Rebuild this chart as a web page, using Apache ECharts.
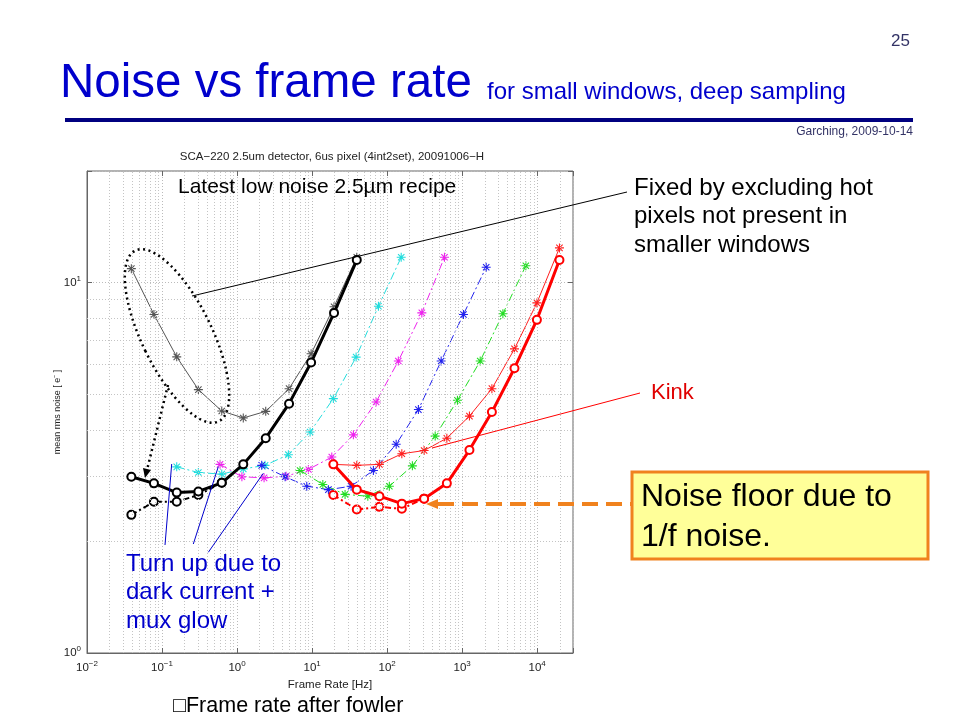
<!DOCTYPE html>
<html>
<head>
<meta charset="utf-8">
<script src="https://cdn.jsdelivr.net/npm/echarts@6/dist/echarts.min.js"></script>
<style>html,body{margin:0;padding:0;background:#fff;}#c{width:960px;height:720px;}</style>
</head>
<body>
<div id="c"></div>
<script>
// ---- data ----
const blackX     = [0.039, 0.078, 0.157, 0.305, 0.625, 1.21, 2.41, 4.93, 9.7, 19.6, 39.4];
const grayStarY  = [10.9, 8.2, 6.3, 5.14, 4.5, 4.31, 4.49, 5.17, 6.42, 8.6, 11.7];
const blackCircY = [2.99, 2.87, 2.71, 2.73, 2.88, 3.23, 3.80, 4.71, 6.08, 8.28, 11.5];
const blackDashX = [0.039, 0.078, 0.157, 0.305, 0.625];
const blackDashY = [2.36, 2.56, 2.56, 2.67, 2.88];
const cyanX = [0.157, 0.305, 0.625, 1.21, 2.36, 4.83, 9.4, 19.2, 38.6, 76.6, 154];
const cyanY = [3.18, 3.07, 3.04, 3.14, 3.21, 3.43, 3.95, 4.86, 6.29, 8.63, 11.7];
const magX  = [0.593, 1.16, 2.29, 4.5, 8.93, 18.3, 35.5, 71.3, 141, 290, 581];
const magY  = [3.23, 2.99, 2.97, 3.0, 3.13, 3.38, 3.88, 4.76, 6.14, 8.28, 11.7];
const blueX = [2.13, 4.37, 8.49, 16.5, 33.1, 65.6, 132, 261, 525, 1040, 2090];
const blueY = [3.21, 2.99, 2.82, 2.76, 2.82, 3.11, 3.66, 4.54, 6.14, 8.2, 11.0];
const greenX = [6.92, 13.9, 27.5, 55.3, 107, 217, 437, 865, 1740, 3490, 7060];
const greenY = [3.11, 2.85, 2.68, 2.65, 2.82, 3.20, 3.85, 4.81, 6.14, 8.24, 11.1];
const redX     = [19.2, 39.4, 78.9, 157, 311, 625, 1250, 2490, 4980, 9910, 19800];
const redStarY = [3.23, 3.21, 3.23, 3.45, 3.52, 3.80, 4.36, 5.17, 6.62, 8.81, 12.4];
const redCircY = [3.23, 2.76, 2.65, 2.53, 2.61, 2.87, 3.53, 4.47, 5.87, 7.93, 11.5];
const redDashX = [19.2, 39.4, 78.9, 157, 311];
const redDashY = [2.67, 2.44, 2.48, 2.45, 2.61];
const xMin = 0.01, xMax = 30000, yMin = 1, yMax = 20;
const minorMultipliers = [2, 3, 4, 5, 6, 7, 8, 9];
const xDecades = [-2, -1, 0, 1, 2, 3, 4];
const yDecades = [0, 1];

// ---- helpers ----
const FONT = '"Liberation Sans", Arial, Helvetica, sans-serif';
const pairs = (xs, ys) => xs.map((x, i) => [x, ys[i]]);
const STAR = 'path://M-0.6,-5L0.6,-5L0.6,5L-0.6,5Z M-5,-0.6L5,-0.6L5,0.6L-5,0.6Z M-3.96,-3.11L-3.11,-3.96L3.96,3.11L3.11,3.96Z M3.11,-3.96L3.96,-3.11L-3.11,3.96L-3.96,3.11Z';
const DASHDOT = [8, 3, 2, 3];

function starSeries(xs, ys, color, lineType, width) {
  return {
    type: 'line', data: pairs(xs, ys), z: 3,
    symbol: STAR, symbolSize: 9,
    itemStyle: { color: color },
    lineStyle: { color: color, width: width, type: lineType },
  };
}
function circSeries(xs, ys, color, lineType, width, z) {
  return {
    type: 'line', data: pairs(xs, ys), z: z,
    symbol: 'circle', symbolSize: 8,
    itemStyle: { color: '#fff', borderColor: color, borderWidth: 2 },
    lineStyle: { color: color, width: width, type: lineType },
  };
}

const minorX = [], minorY = [];
xDecades.forEach(d => minorMultipliers.forEach(m => { const v = m * Math.pow(10, d); if (v < xMax * 0.999) minorX.push(v); }));
yDecades.forEach(d => minorMultipliers.forEach(m => { const v = m * Math.pow(10, d); if (v < yMax * 0.999) minorY.push(v); }));

function powLabel(v) {
  const l = Math.log10(v);
  const e = Math.round(l);
  if (Math.abs(l - e) > 1e-6) return '';
  return '{b|10}{s|' + (e < 0 ? '\u2212' + (-e) : e) + '}';
}
const labelRich = {
  b: { fontSize: 11.5, fontFamily: FONT, color: '#222' },
  s: { fontSize: 8, fontFamily: FONT, color: '#222', verticalAlign: 'bottom', padding: [0, 0, 8, 0] }
};

const chart = echarts.init(document.getElementById('c'), null, { renderer: 'canvas' });

function txt(text, x, y, size, color, align, extra) {
  return {
    type: 'text', silent: true, z: 50,
    style: Object.assign({
      text: text, x: x, y: y, font: size + 'px ' + FONT, fill: color,
      textAlign: align || 'left', align: align || 'left',
      textVerticalAlign: 'middle', verticalAlign: 'middle'
    }, extra || {})
  };
}
function ln(x1, y1, x2, y2, color, w, dash) {
  return { type: 'line', silent: true, z: 40, shape: { x1, y1, x2, y2 },
           style: { stroke: color, lineWidth: w, lineDash: dash || null } };
}
function tri(points, color) {
  return { type: 'polygon', silent: true, z: 41, shape: { points }, style: { fill: color } };
}

const boxAxis = (type, pos, min, max) => ({
  type: type, logBase: 10, min: min, max: max, position: pos,
  axisLine: { show: false }, axisLabel: { show: false }, splitLine: { show: false },
  axisTick: { inside: true, length: 5, lineStyle: { color: '#666' } }
});

const option = {
  animation: false,
  backgroundColor: '#fff',
  grid: { left: 87, top: 171, width: 486, height: 482, show: true, borderColor: '#666', borderWidth: 1, containLabel: false },
  xAxis: [{
    type: 'log', logBase: 10, min: xMin, max: xMax,
    name: 'Frame Rate [Hz]', nameLocation: 'middle', nameGap: 26,
    nameTextStyle: { fontSize: 11.5, fontFamily: FONT, color: '#222' },
    axisLine: { lineStyle: { color: '#666' } },
    axisTick: { inside: true, length: 5, lineStyle: { color: '#666' } },
    axisLabel: { formatter: powLabel, rich: labelRich, margin: 7 },
    splitLine: { show: true, lineStyle: { color: '#bbb', type: [1, 2] } }
  }, boxAxis('log', 'top', xMin, xMax)],
  yAxis: [{
    type: 'log', logBase: 10, min: yMin, max: yMax,
    name: 'mean rms noise [ e\u207B ]', nameLocation: 'middle', nameGap: 25,
    nameMoveOverlap: false,
    nameTextStyle: { fontSize: 9, fontFamily: FONT, color: '#222' },
    axisLine: { lineStyle: { color: '#666' } },
    axisTick: { inside: true, length: 5, lineStyle: { color: '#666' } },
    axisLabel: { formatter: powLabel, rich: labelRich, margin: 6 },
    splitLine: { show: true, lineStyle: { color: '#bbb', type: [1, 2] } }
  }, boxAxis('log', 'right', yMin, yMax)],
  series: [
    {
      type: 'line', data: [[1, 1]], z: 1, symbol: 'none', silent: true,
      lineStyle: { opacity: 0 },
      markLine: {
        silent: true, symbol: ['none', 'none'], label: { show: false }, animation: false,
        lineStyle: { color: '#c4c4c4', type: [1, 2], width: 1 },
        emphasis: { disabled: true },
        data: minorX.map(v => ({ xAxis: v })).concat(minorY.map(v => ({ yAxis: v })))
      }
    },
    starSeries(blackX, grayStarY, '#555555', 'solid', 1),
    starSeries(cyanX, cyanY, '#22dddd', DASHDOT, 1),
    starSeries(magX, magY, '#ee22ee', DASHDOT, 1),
    starSeries(blueX, blueY, '#2222ee', DASHDOT, 1),
    starSeries(greenX, greenY, '#22dd22', DASHDOT, 1),
    starSeries(redX, redStarY, '#ff2020', 'solid', 1),
    circSeries(blackDashX, blackDashY, '#000000', [6, 3, 2, 3], 2, 4),
    circSeries(redDashX, redDashY, '#ff0000', [6, 3, 2, 3], 2, 4),
    circSeries(blackX, blackCircY, '#000000', 'solid', 3, 5),
    circSeries(redX, redCircY, '#ff0000', 'solid', 3, 5)
  ],
  graphic: { elements: [
    txt('25', 910, 41, 17, '#333366', 'right'),
    txt('Noise vs frame rate', 60, 84, 47.5, '#0000cc'),
    txt('for small windows, deep sampling', 487, 92, 24, '#0000cc'),
    ln(65, 120, 913, 120, '#000080', 4),
    txt('Garching, 2009-10-14', 913, 132, 12, '#333366', 'right'),
    txt('SCA\u2212220 2.5um detector, 6us pixel (4int2set), 20091006\u2212H', 332, 157, 11.5, '#222', 'center'),
    txt('Latest low noise 2.5\u00B5m recipe', 178, 187, 21, '#000'),
    txt('Fixed by excluding hot\npixels not present in\nsmaller windows', 634, 174, 24, '#000', 'left', { verticalAlign: 'top', textVerticalAlign: 'top', lineHeight: 28.5 }),
    ln(192, 296, 627, 192, '#000', 1),
    {
      type: 'ellipse', silent: true, z: 40, x: 177, y: 336, rotation: 26 * Math.PI / 180,
      shape: { cx: 0, cy: 0, rx: 35, ry: 95 },
      style: { fill: null, stroke: '#000', lineWidth: 2.5, lineDash: [2, 3.5] }
    },
    ln(168, 385, 147, 470, '#000', 2.5, [2, 3.5]),
    tri([[145, 478], [151, 470], [143, 468]], '#000'),
    txt('Kink', 651, 393, 22, '#e00000'),
    ln(432, 448, 640, 393, '#ff0000', 1),
    ln(171.7, 464, 165, 545, '#0000cc', 1),
    ln(218.3, 466.7, 193.3, 544, '#0000cc', 1),
    ln(263.3, 473.3, 208.3, 552.3, '#0000cc', 1),
    txt('Turn up due to\ndark current +\nmux glow', 126, 550, 24, '#0000cc', 'left', { verticalAlign: 'top', textVerticalAlign: 'top', lineHeight: 28.5 }),
    ln(438, 504, 631, 504, '#f0821e', 4, [16, 8]),
    tri([[426, 504], [438, 499], [438, 509]], '#f0821e'),
    { type: 'rect', silent: true, z: 42, shape: { x: 632, y: 472, width: 296, height: 87 },
      style: { fill: '#ffff99', stroke: '#f0821e', lineWidth: 3 } },
    txt('Noise floor due to\n1/f noise.', 641, 477, 32, '#000', 'left', { verticalAlign: 'top', textVerticalAlign: 'top', lineHeight: 40 }),
    txt('\u25A1Frame rate after fowler', 173, 706, 21.5, '#000')
  ] }
};
chart.setOption(option);
</script>
</body>
</html>
